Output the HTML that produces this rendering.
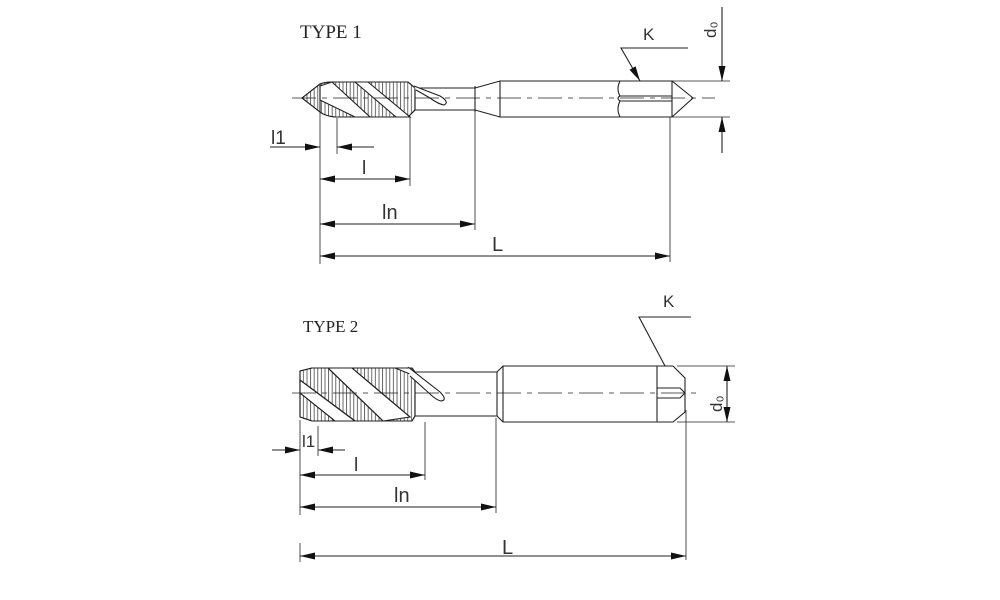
<!DOCTYPE html>
<html><head><meta charset="utf-8"><style>
html,body{margin:0;padding:0;background:#fff;}
svg{display:block;}
text{font-family:"Liberation Sans",sans-serif;fill:#333;}
.t{font-family:"Liberation Serif",serif;fill:#222;}
</style></head><body>
<svg width="1000" height="600" viewBox="0 0 1000 600" xmlns="http://www.w3.org/2000/svg">
<defs>
<pattern id="h" width="3.6" height="10" patternUnits="userSpaceOnUse">
<line x1="1" y1="0" x2="1" y2="10" stroke="#444" stroke-width="0.8"/>
</pattern>
<marker id="a" viewBox="0 0 15 7" refX="15" refY="3.5" markerWidth="15" markerHeight="7" orient="auto" markerUnits="userSpaceOnUse">
<path d="M0,0 L15,3.5 L0,7 Z" fill="#111"/></marker>
<marker id="b" viewBox="0 0 15 7" refX="0" refY="3.5" markerWidth="15" markerHeight="7" orient="auto" markerUnits="userSpaceOnUse">
<path d="M15,0 L0,3.5 L15,7 Z" fill="#111"/></marker>
</defs>
<g stroke="#222" stroke-width="1.1" fill="none">
<!-- TYPE 1 -->
<text class="t" x="300" y="38" font-size="19" stroke="none">TYPE 1</text>
<path d="M302,98 L320,84 Q325,82 332,82 L408,82 L415,88 L415,110 L408,117 L335,117 Q325,116 320,112 Z" fill="url(#h)"/>
<polygon points="320,86 332,82 370,117 355,117 320,100" fill="#fff"/>
<polygon points="355,82 368,82 410,117 396,117" fill="#fff"/>
<path d="M302,98 L320,84 Q325,82 332,82 L408,82 L415,88 L415,110 L408,117 L335,117 Q325,116 320,112 Z"/>
<line x1="320" y1="84" x2="320" y2="112"/>
<line x1="415" y1="88" x2="475" y2="88"/>
<line x1="415" y1="110" x2="475" y2="110"/>
<path d="M414,86 L440,96 Q450,102 444,105 Q438,104 430,98 L416,90" fill="#fff"/>
<line x1="475" y1="86" x2="475" y2="112"/>
<path d="M475,88 L500,81 L672,81 L693,98 L672,117 L500,117 L475,110"/>
<line x1="500" y1="81" x2="500" y2="117"/>
<line x1="672" y1="81" x2="672" y2="117"/>
<path d="M620,81 Q616,89 620,96 M620,101 Q616,109 620,117 M620,96 L672,96 M620,101 L672,101 M620,96 Q616,98 620,101"/>
<line x1="292" y1="98" x2="715" y2="98" stroke-width="0.8" stroke-dasharray="24,6,5,6"/>
<line x1="672" y1="81" x2="730" y2="81" stroke-width="0.8"/>
<line x1="672" y1="117" x2="730" y2="117" stroke-width="0.8"/>
<line x1="722" y1="7" x2="722" y2="81" marker-end="url(#a)"/>
<line x1="722" y1="153" x2="722" y2="117" marker-end="url(#a)"/>
<text x="0" y="0" font-size="17" stroke="none" transform="translate(716,38) rotate(-90)">d₀</text>
<polyline points="688,48 621,48 640,81" marker-end="url(#a)"/>
<text x="643" y="40" font-size="17" stroke="none">K</text>
<line x1="320" y1="112" x2="320" y2="264" stroke-width="0.8"/>
<line x1="337" y1="118" x2="337" y2="154" stroke-width="0.8"/>
<line x1="410" y1="117" x2="410" y2="186" stroke-width="0.8"/>
<line x1="475" y1="112" x2="475" y2="230" stroke-width="0.8"/>
<line x1="670" y1="117" x2="670" y2="262" stroke-width="0.8"/>
<line x1="270" y1="147" x2="320" y2="147" marker-end="url(#a)"/>
<line x1="374" y1="147" x2="337" y2="147" marker-end="url(#a)"/>
<text x="271" y="144" font-size="19" stroke="none">l1</text>
<line x1="320" y1="179" x2="410" y2="179" marker-start="url(#b)" marker-end="url(#a)"/>
<text x="362" y="174" font-size="19" stroke="none">l</text>
<line x1="320" y1="224" x2="475" y2="224" marker-start="url(#b)" marker-end="url(#a)"/>
<text x="382" y="219" font-size="20" stroke="none">ln</text>
<line x1="320" y1="256" x2="670" y2="256" marker-start="url(#b)" marker-end="url(#a)"/>
<text x="492" y="251" font-size="20" stroke="none">L</text>

<!-- TYPE 2 -->
<text class="t" x="303" y="332" font-size="17" stroke="none">TYPE 2</text>
<path d="M300,371 L312,368 L412,368 L415,372 L415,416 L412,421 L312,421 L300,417 Z" fill="url(#h)"/>
<polygon points="300,380 300,393 335,421 355,421" fill="#fff"/>
<polygon points="328,368 352,368 410,417 383,421" fill="#fff"/>
<polygon points="395,368 408,368 415,373 415,376" fill="#fff"/>
<path d="M300,371 L312,368 L412,368 L415,372 L415,416 L412,421 L312,421 L300,417 Z"/>
<line x1="300" y1="380" x2="355" y2="421"/>
<line x1="300" y1="393" x2="335" y2="421"/>
<line x1="328" y1="368" x2="383" y2="421"/>
<line x1="352" y1="368" x2="410" y2="417"/>
<line x1="415" y1="372" x2="497" y2="372"/>
<line x1="415" y1="416" x2="497" y2="416"/>
<path d="M408,367 L440,392 Q448,400 441,401 Q436,400 430,394 L410,376" fill="#fff"/>
<line x1="497" y1="372" x2="497" y2="416"/>
<path d="M497,372 L503,366 L673,366 L685,378 L685,412 L673,422 L503,422 L497,416"/>
<line x1="503" y1="366" x2="503" y2="422"/>
<line x1="657" y1="366" x2="657" y2="422"/>
<path d="M657,388 L680,388 L685,393 L680,398 L657,398"/>
<line x1="292" y1="393" x2="700" y2="393" stroke-width="0.8" stroke-dasharray="24,6,5,6"/>
<line x1="677" y1="366" x2="735" y2="366" stroke-width="0.8"/>
<line x1="677" y1="422" x2="735" y2="422" stroke-width="0.8"/>
<line x1="727" y1="394" x2="727" y2="366" marker-end="url(#a)"/>
<line x1="727" y1="394" x2="727" y2="422" marker-end="url(#a)"/>
<text x="0" y="0" font-size="17" stroke="none" transform="translate(722,412) rotate(-90)">d₀</text>
<polyline points="691,317 639,317 665,366"/>
<text x="663" y="307" font-size="17" stroke="none">K</text>
<line x1="300" y1="420" x2="300" y2="515" stroke-width="0.8"/>
<line x1="300" y1="543" x2="300" y2="562" stroke-width="0.8"/>
<line x1="318" y1="426" x2="318" y2="456" stroke-width="0.8"/>
<line x1="425" y1="422" x2="425" y2="480" stroke-width="0.8"/>
<line x1="496" y1="418" x2="496" y2="513" stroke-width="0.8"/>
<line x1="686" y1="410" x2="686" y2="560" stroke-width="0.8"/>
<line x1="272" y1="450" x2="300" y2="450" marker-end="url(#a)"/>
<line x1="345" y1="450" x2="318" y2="450" marker-end="url(#a)"/>
<text x="302" y="447" font-size="17" stroke="none">l1</text>
<line x1="300" y1="475" x2="425" y2="475" marker-start="url(#b)" marker-end="url(#a)"/>
<text x="354" y="471" font-size="19" stroke="none">l</text>
<line x1="300" y1="507" x2="496" y2="507" marker-start="url(#b)" marker-end="url(#a)"/>
<text x="394" y="502" font-size="20" stroke="none">ln</text>
<line x1="300" y1="556" x2="686" y2="556" marker-start="url(#b)" marker-end="url(#a)"/>
<text x="502" y="554" font-size="20" stroke="none">L</text>
</g>
</svg>
</body></html>
